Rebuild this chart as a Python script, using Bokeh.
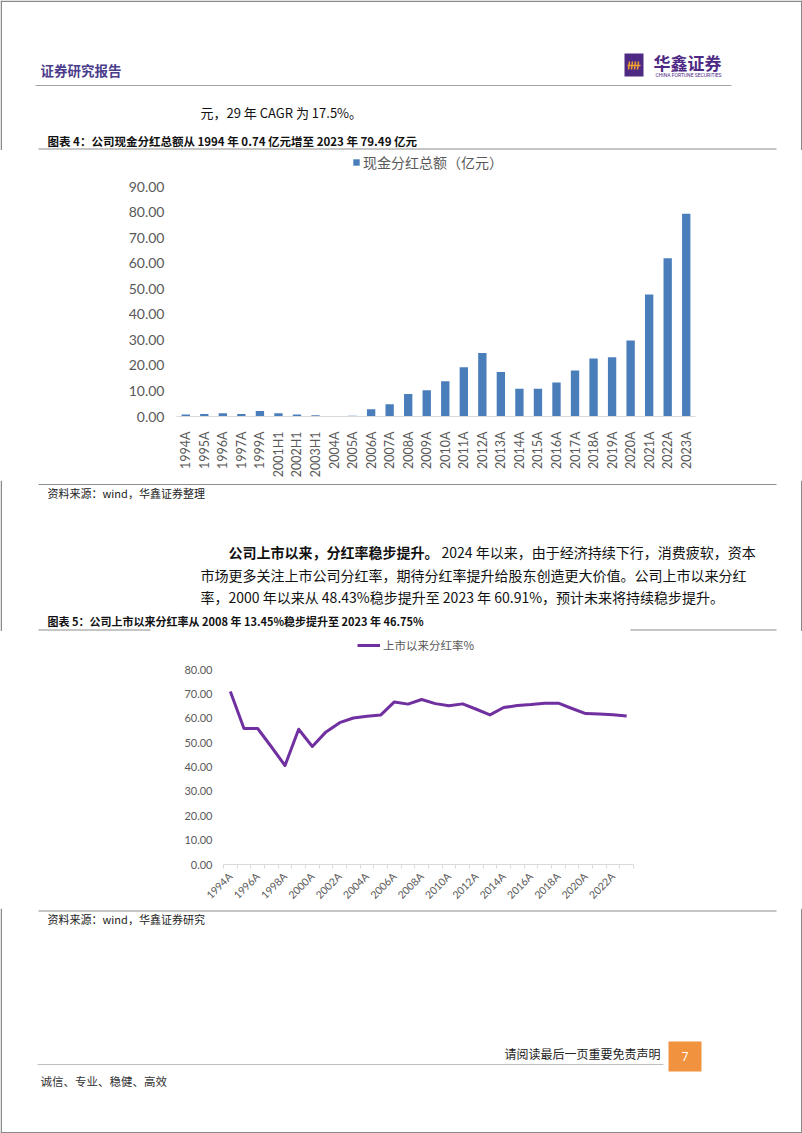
import math
from bokeh.plotting import figure
from bokeh.models import (Range1d, FactorRange, Legend, LegendItem, PrintfTickFormatter,
                          FixedTicker, LinearAxis, CustomJSTickFormatter, BoxAnnotation)
from bokeh.layouts import column
from bokeh.embed import file_html
from bokeh.resources import INLINE
from bokeh.core.properties import value

# ---------------- data ----------------
cats1 = ["1994A", "1995A", "1996A", "1997A", "1999A", "2001H1", "2002H1", "2003H1",
         "2004A", "2005A", "2006A", "2007A", "2008A", "2009A", "2010A", "2011A",
         "2012A", "2013A", "2014A", "2015A", "2016A", "2017A", "2018A", "2019A",
         "2020A", "2021A", "2022A", "2023A"]
dividend = [0.74, 1.0, 1.3, 1.0, 2.2, 1.3, 0.8, 0.5,
            0.2, 0.25, 2.8, 4.8, 8.8, 10.3, 13.8, 19.3,
            24.9, 17.4, 10.9, 10.9, 13.3, 18.0, 22.7, 23.2,
            29.8, 47.8, 62.0, 79.49]
y1_ticks = [0, 10, 20, 30, 40, 50, 60, 70, 80, 90]
legend1 = "现金分红总额（亿元）"

cats2 = ["1994A", "1995A", "1996A", "1997A", "1998A", "1999A", "2000A", "2001A",
         "2002A", "2003A", "2004A", "2005A", "2006A", "2007A", "2008A", "2009A",
         "2010A", "2011A", "2012A", "2013A", "2014A", "2015A", "2016A", "2017A",
         "2018A", "2019A", "2020A", "2021A", "2022A", "2023A"]
payout = [71.0, 55.8, 55.8, 48.3, 40.6, 55.5, 48.43, 54.4,
          58.2, 60.1, 60.8, 61.3, 66.7, 65.8, 67.7, 66.0,
          65.1, 65.9, 63.7, 61.4, 64.4, 65.2, 65.6, 66.2,
          66.2, 64.0, 61.9, 61.7, 61.4, 60.91]
y2_ticks = [0, 10, 20, 30, 40, 50, 60, 70, 80]
legend2 = "上市以来分红率%"

# ---------------- styles ----------------
W = 802
CJK = "Noto Sans CJK SC"
NUM = "Lato"
GREY_TXT = "#595959"
RULE = "#8c8c8c"
BORDER = "#8a8a8a"


def no_align(p):
    if "frame_align" in p.properties():
        p.frame_align = False
    return p


def page_fig(y0, y1):
    p = figure(width=W, height=y1 - y0, x_range=Range1d(0, W), y_range=Range1d(y1, y0),
               output_backend="svg", toolbar_location=None,
               x_axis_location=None, y_axis_location=None,
               min_border=0, min_border_left=0, min_border_right=0,
               min_border_top=0, min_border_bottom=0)
    p.grid.visible = False
    p.outline_line_color = None
    p.segment(x0=[0.75, W - 0.75], y0=[y0, y0], x1=[0.75, W - 0.75], y1=[y1, y1],
              line_color=BORDER, line_width=1.5)
    return no_align(p)


def txt(p, x, y, s, size, color="#111111", bold=False, font=CJK, align="left"):
    p.text(x=[x], y=[y], text=[s], text_font=value(font), text_font_size=f"{size}px",
           text_color=color, text_font_style="bold" if bold else "normal",
           text_baseline="middle", text_align=align)


def hline(p, x0, x1, y, color=RULE, width=1):
    p.line(x=[x0, x1], y=[y, y], line_color=color, line_width=width)


def chart_border(p):
    for l, r in ((0, 1.5), (W - 1.5, W)):
        p.add_layout(BoxAnnotation(left=l, right=r, top=0, bottom=10000,
                                   left_units="canvas", right_units="canvas",
                                   top_units="canvas", bottom_units="canvas",
                                   fill_color=BORDER, fill_alpha=1, line_color=None))


def style_yaxis(ax, size, standoff):
    ax.formatter = PrintfTickFormatter(format="%.2f")
    ax.axis_line_color = None
    ax.major_tick_line_color = None
    ax.minor_tick_line_color = None
    ax.major_label_text_font = NUM
    ax.major_label_text_font_size = size
    ax.major_label_text_color = GREY_TXT
    ax.major_label_standoff = standoff


# ---------------- band A: header ----------------
pa = page_fig(0, 150)
hline(pa, 0, W, 0.75, color=BORDER, width=1.5)
txt(pa, 40, 69, "证券研究报告", 13.5, color="#4b3c8c", bold=True)
pa.quad(left=[624], right=[643], top=[53], bottom=[76], fill_color="#4e2a84", line_color=None)
pa.line(x=[627, 640], y=[65, 65], line_color="#f0a030", line_width=1.5)
pa.segment(x0=[629, 632, 635, 638], y0=[61, 61, 61, 61], x1=[628, 631, 634, 637],
           y1=[69, 69, 69, 69], line_color="#f0a030", line_width=1.5)
txt(pa, 653, 62, "华鑫证券", 17, color="#4e2a84", bold=True)
txt(pa, 655, 74, "CHINA FORTUNE SECURITIES", 5, color="#4e2a84", font="Roboto")
hline(pa, 35, 731, 85, color="#a6a6a6")
txt(pa, 200, 112, "元，29 年 CAGR 为 17.5%。", 13)
txt(pa, 47, 140, "图表 4：公司现金分红总额从 1994 年 0.74 亿元增至 2023 年 79.49 亿元", 11.5, bold=True)
hline(pa, 38, 776, 148.5)

# ---------------- chart 1 ----------------
p1 = figure(width=W, height=330, x_range=FactorRange(factors=cats1), y_range=Range1d(0, 104.23),
            output_backend="svg", toolbar_location=None,
            min_border_left=176, min_border_right=107, min_border_top=0, min_border_bottom=59)
no_align(p1)
r1 = p1.vbar(x=cats1, top=dividend, width=0.45, fill_color="#4a7ebb", line_color=None)
p1.grid.visible = False
p1.outline_line_color = None
p1.yaxis.ticker = y1_ticks
style_yaxis(p1.yaxis[0], "14px", 6)
p1.xaxis.axis_line_color = "#d9d9d9"
p1.xaxis.major_tick_line_color = None
p1.xaxis.major_label_orientation = math.pi / 2
p1.xaxis.major_label_text_font = NUM
p1.xaxis.major_label_text_font_size = "12.5px"
p1.xaxis.major_label_text_color = GREY_TXT
p1.xaxis.major_label_standoff = 9
leg1 = Legend(items=[LegendItem(label=legend1, renderers=[r1])], location=(176, 244),
              orientation="horizontal", border_line_color=None, background_fill_alpha=0,
              label_text_font=CJK, label_text_font_size="14px", label_text_color=GREY_TXT,
              glyph_width=8, glyph_height=8, label_height=20, padding=0, margin=0,
              label_standoff=3, spacing=0)
p1.add_layout(leg1, "center")
chart_border(p1)

# ---------------- band C: text between charts ----------------
pc = page_fig(480, 631)
hline(pc, 38, 776, 484)
txt(pc, 47, 492, "资料来源：wind，华鑫证券整理", 11, color="#222222")
txt(pc, 228, 551, "公司上市以来，分红率稳步提升。", 14, bold=True)
txt(pc, 441, 551, "2024 年以来，由于经济持续下行，消费疲软，资本", 14)
txt(pc, 200, 574, "市场更多关注上市公司分红率，期待分红率提升给股东创造更大价值。公司上市以来分红", 14)
txt(pc, 200, 596, "率，2000 年以来从 48.43%稳步提升至 2023 年 60.91%，预计未来将持续稳步提升。", 14)
txt(pc, 47, 620, "图表 5：公司上市以来分红率从 2008 年 13.45%稳步提升至 2023 年 46.75%", 11, bold=True)
hline(pc, 38, 150, 629.5)
hline(pc, 630, 776, 629.5)

# ---------------- chart 2 ----------------
x2 = list(range(len(cats2)))
p2 = figure(width=W, height=277, x_range=Range1d(-0.5, len(cats2) - 0.5),
            y_range=Range1d(0, 95.59),
            output_backend="svg", toolbar_location=None,
            min_border_left=223, min_border_right=169, min_border_top=0, min_border_bottom=44)
no_align(p2)
r2 = p2.line(x=x2, y=payout, line_color="#7030a0", line_width=3, line_join="round")
p2.grid.visible = False
p2.outline_line_color = None
p2.yaxis.ticker = y2_ticks
style_yaxis(p2.yaxis[0], "11px", 5)
# tick marks between categories (no labels)
bx = p2.xaxis[0]
bx.ticker = FixedTicker(ticks=[i - 0.5 for i in range(len(cats2) + 1)])
bx.formatter = CustomJSTickFormatter(code="return ''")
bx.axis_line_color = "#d9d9d9"
bx.major_tick_line_color = "#d9d9d9"
bx.major_tick_in = 0
bx.major_tick_out = 4
bx.minor_tick_line_color = None
bx.major_label_standoff = 0
# category labels, every other one
lab = LinearAxis(ticker=FixedTicker(ticks=x2[::2]),
                 major_label_overrides={i: cats2[i] for i in x2[::2]},
                 axis_line_color=None, major_tick_line_color=None, minor_tick_line_color=None,
                 major_label_orientation=math.pi / 4, major_label_standoff=0,
                 major_label_text_font=NUM, major_label_text_font_size="10.5px",
                 major_label_text_color=GREY_TXT)
p2.add_layout(lab, "below")
leg2 = Legend(items=[LegendItem(label=legend2, renderers=[r2])], location=(134, 211),
              orientation="horizontal", border_line_color=None, background_fill_alpha=0,
              label_text_font=CJK, label_text_font_size="11.5px", label_text_color=GREY_TXT,
              glyph_width=23, glyph_height=16, label_height=16, padding=0, margin=0,
              label_standoff=3, spacing=0)
p2.add_layout(leg2, "center")
chart_border(p2)

# ---------------- band E: footer ----------------
pe = page_fig(908, 1133)
hline(pe, 0, W, 1132.25, color=BORDER, width=1.5)
hline(pe, 38, 776, 910.5)
txt(pe, 47, 918, "资料来源：wind，华鑫证券研究", 11, color="#222222")
txt(pe, 660, 1053, "请阅读最后一页重要免责声明", 12, color="#222222", align="right")
hline(pe, 37, 663, 1064, color="#bfbfbf")
pe.quad(left=[668], right=[701], top=[1041], bottom=[1071], fill_color="#f0923e", line_color=None)
txt(pe, 684.5, 1056, "7", 12, color="#ffffff", font="Roboto", align="center")
txt(pe, 40, 1080, "诚信、专业、稳健、高效", 11.5, color="#333333")

layout = column(pa, p1, pc, p2, pe, spacing=0)
open("out.html", "w").write(file_html(layout, INLINE))
